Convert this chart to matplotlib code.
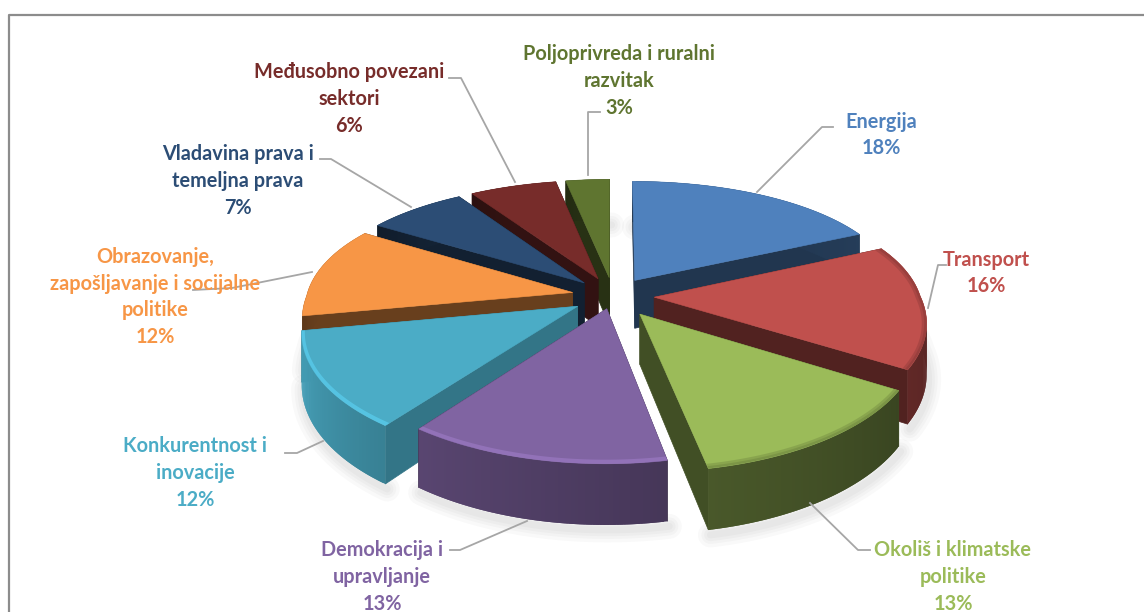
import numpy as np
import matplotlib
matplotlib.use('Agg')
import matplotlib.pyplot as plt
from matplotlib.colors import to_rgb

names = ['Energija', 'Transport', 'Okoliš i klimatske\npolitike', 'Demokracija i\nupravljanje',
         'Konkurentnost i\ninovacije', 'Obrazovanje,\nzapošljavanje i socijalne\npolitike',
         'Vladavina prava i\ntemeljna prava', 'Međusobno povezani\nsektori', 'Poljoprivreda i ruralni\nrazvitak']
shares = [18, 16, 13, 13, 12, 12, 7, 6, 3]
colors = ['#4F81BD', '#C0504D', '#9BBB59', '#8064A2', '#4BACC6', '#F79646', '#2C4D75', '#772C2A', '#5F7530']
wall_dark = [0.42, 0.45, 0.42, 0.62, 0.85, 0.42, 0.42, 0.42, 0.42]
wall_radial = [0.42, 0.42, 0.42, 0.42, 0.68, 0.42, 0.42, 0.42, 0.42]
explode = [0.155, 0.155, 0.175, 0.105, 0.155, 0.155, 0.155, 0.155, 0.155]

label_x = [881, 986, 953, 382, 195, 155, 238, 349, 619]
label_y = [135, 273, 577, 577, 473, 297, 181, 99, 81]

leaders = [
    [(833, 127), (822, 127), (757, 192)],
    [(946, 265), (938, 265), (928, 308)],
    [(870, 550), (858, 550), (810, 503)],
    [(450, 550), (460, 550), (527, 521)],
    [(285, 453), (297, 453), (323, 441)],
    [(193, 290), (232, 288), (312, 272)],
    [(320, 159), (331, 159), (411, 207)],
    [(449, 78), (461, 78), (515, 182)],
    [(600, 112), (588, 112), (588, 175)],
]

CX, CY = 613, 296
RX, RY = 266, 122
K = 0.18
K_BACK_X = 0.12
THICK = 49


def project(u, v, z=0.0):
    # u to the right, v to the back, z down
    u, v = np.asarray(u, float), np.asarray(v, float)
    p = 1 / (1 + K * v)
    px = np.where(v > 0, 1 / (1 + K_BACK_X * v), p)
    return CX + RX * u * px, CY - RY * v * p + THICK * z * p


def shade(color, f):
    return tuple(min(1, c * f) for c in to_rgb(color))


fig = plt.figure(figsize=(11.44, 6.12), dpi=100)
ax = fig.add_axes([0, 0, 1, 1])
ax.set_xlim(0, 1144)
ax.set_ylim(612, 0)
ax.axis('off')

# frame, only top and left
ax.plot([9, 9, 1144], [612, 15, 15], color='#8c8c8c', lw=1.6, zorder=1)

edges = np.cumsum([0] + shares) / sum(shares) * 2 * np.pi
slices = []
for i in range(len(shares)):
    mid = (edges[i] + edges[i + 1]) / 2
    slices.append((np.cos(mid), i))
slices.sort(key=lambda s: -s[0])

# soft shadow under everything
for depth, i in slices:
    t = np.linspace(edges[i], edges[i + 1], 60)
    mid = (edges[i] + edges[i + 1]) / 2
    ou, ov = explode[i] * np.sin(mid), explode[i] * np.cos(mid)
    x, y = project(ou + np.sin(t), ov + np.cos(t), 1.0)
    for lw in [18, 13, 9, 5]:
        ax.plot(x + 2, y + 5, color='black', alpha=0.022, lw=lw, zorder=2, solid_capstyle='round')

zo = 3
for depth, i in slices:
    col = colors[i]
    t = np.linspace(edges[i], edges[i + 1], 80)
    mid = (edges[i] + edges[i + 1]) / 2
    ou, ov = explode[i] * np.sin(mid), explode[i] * np.cos(mid)
    u = ou + np.sin(t)
    v = ov + np.cos(t)

    # radial walls
    for end in (0, -1):
        xs0, ys0 = project([ou, u[end]], [ov, v[end]], 0)
        xs1, ys1 = project([ou, u[end]], [ov, v[end]], 1)
        ax.fill(np.r_[xs0, xs1[::-1]], np.r_[ys0, ys1[::-1]], color=shade(col, wall_radial[i]),
                lw=0.5, zorder=zo)

    # outer wall, a strip per step so it can lighten along the arc
    x0, y0 = project(u, v, 0)
    x1, y1 = project(u, v, 1)
    for j in range(len(t) - 1):
        f = wall_dark[i] * (0.88 + 0.24 * j / (len(t) - 2))
        k = min(j + 2, len(t) - 1)
        ax.fill([x0[j], x0[k], x1[k], x1[j]], [y0[j], y0[k], y1[k], y1[j]],
                facecolor=shade(col, f), edgecolor='none', lw=0, zorder=zo)

    # top face
    xt, yt = project(np.r_[ou, u], np.r_[ov, v], 0)
    top = ax.fill(xt, yt, color=col, lw=0.4, zorder=zo + 1)[0]

    # rim: light bevel on the blue and purple slices, dark on the others in front
    if i in (3, 4):
        rim = ax.plot(x0, y0 - 1, color=shade(col, 1.2), lw=4.5, alpha=0.7, zorder=zo + 2)[0]
        rim.set_clip_path(top)
    elif i in (1, 2):
        for lw in [7, 3.5]:
            rim = ax.plot(x0, y0, color=shade(col, 0.55), lw=lw, alpha=0.25, zorder=zo + 2)[0]
            rim.set_clip_path(top)
    zo += 3

# leader lines
for pts in leaders:
    ax.plot([p[0] for p in pts], [p[1] for p in pts], color='#a6a6a6', lw=1.3, zorder=60)

for name, share, x, y, c in zip(names, shares, label_x, label_y, colors):
    ax.text(x, y, f'{name}\n{share}%', color=c, ha='center', va='center', family='Lato',
            fontweight='bold', fontsize=14.3, linespacing=1.42, zorder=70)

fig.savefig('out.png', dpi=100)
